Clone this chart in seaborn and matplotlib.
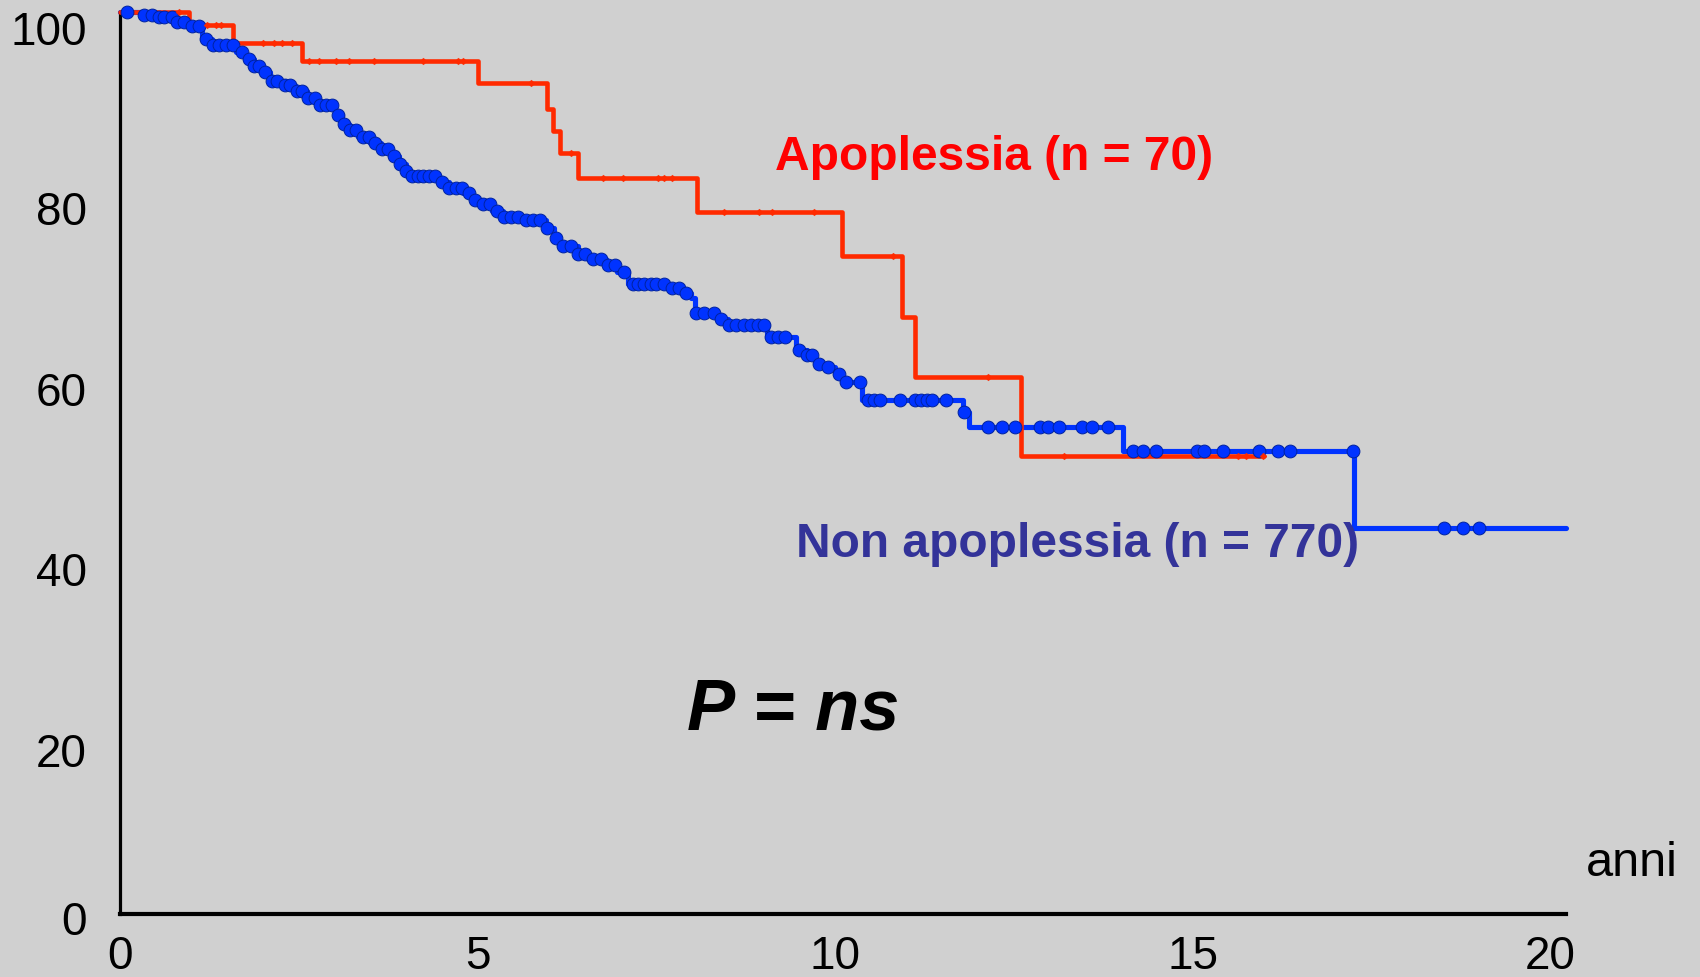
import numpy as np
import pandas as pd
import matplotlib
matplotlib.use("Agg")
import matplotlib.pyplot as plt
import matplotlib.transforms as mtransforms
import seaborn as sns

# ---------------- data ----------------
red_times = [0.0, 0.97, 1.58, 2.55, 5.01, 5.97, 6.05, 6.15, 6.40, 8.07, 10.10,
             10.93, 11.12, 12.60, 16.00]
red_surv = [100.0, 98.6, 96.6, 94.6, 92.1, 89.3, 86.8, 84.4, 81.6, 77.8, 72.9,
            66.2, 59.5, 50.8, 50.8]
red_censor = [0.82, 1.22, 1.34, 1.41, 2.00, 2.15, 2.27, 2.41, 2.64, 2.78, 3.02,
              3.20, 3.55, 4.23, 4.72, 4.80, 5.74, 6.30, 6.75, 7.04, 7.52, 7.60,
              7.72, 8.44, 8.93, 9.11, 9.70, 10.81, 12.14, 13.20, 15.63, 15.74, 15.98]

blue_times = [0.0, 0.30, 0.55, 0.80, 0.95, 1.15, 1.28, 1.62, 1.75, 1.88, 1.97,
              2.10, 2.30, 2.45, 2.62, 2.75, 3.00, 3.10, 3.20, 3.33, 3.50, 3.65,
              3.78, 3.90, 4.00, 4.05, 4.45, 4.60, 4.80, 4.92, 5.05, 5.20, 5.35,
              5.65, 5.95, 6.07, 6.14, 6.40, 6.55, 6.80, 6.95, 7.10, 7.68, 7.85,
              7.98, 8.04, 8.35, 8.50, 9.04, 9.45, 9.60, 9.72, 9.88, 10.00, 10.10,
              10.37, 11.79, 11.87, 14.03, 17.25, 20.22]
blue_surv = [100.0, 99.7, 99.4, 98.9, 98.4, 97.0, 96.3, 95.6, 94.8, 94.0, 93.3,
             92.4, 91.9, 91.2, 90.5, 89.7, 88.6, 87.6, 86.9, 86.1, 85.5, 84.8,
             84.0, 83.2, 82.4, 81.8, 81.1, 80.5, 79.9, 79.2, 78.7, 77.9, 77.3,
             76.9, 76.1, 74.9, 74.1, 73.2, 72.6, 72.0, 71.2, 69.9, 69.4, 68.8,
             68.3, 66.6, 66.0, 65.3, 64.0, 62.5, 62.0, 61.0, 60.6, 59.9, 59.0,
             57.0, 55.7, 54.0, 51.3, 42.8, 42.8]
blue_censor = [0.10, 0.34, 0.45, 0.55, 0.62, 0.72, 0.80, 0.90, 1.00, 1.10, 1.20,
               1.30, 1.38, 1.48, 1.58, 1.70, 1.80, 1.88, 1.95, 2.03, 2.12, 2.20,
               2.30, 2.38, 2.47, 2.55, 2.63, 2.72, 2.80, 2.88, 2.97, 3.05, 3.13,
               3.22, 3.30, 3.40, 3.48, 3.57, 3.66, 3.75, 3.83, 3.92, 4.00, 4.08,
               4.16, 4.24, 4.32, 4.40, 4.50, 4.60, 4.70, 4.78, 4.88, 4.97, 5.07,
               5.17, 5.27, 5.37, 5.47, 5.57, 5.67, 5.77, 5.87, 5.97, 6.10, 6.20,
               6.30, 6.40, 6.50, 6.62, 6.72, 6.82, 6.92, 7.05, 7.17, 7.25, 7.33,
               7.42, 7.50, 7.60, 7.72, 7.82, 7.92, 8.06, 8.16, 8.30, 8.40, 8.52,
               8.62, 8.72, 8.82, 8.92, 9.00, 9.10, 9.20, 9.30, 9.50, 9.60, 9.68,
               9.78, 9.90, 10.05, 10.15, 10.35, 10.46, 10.54, 10.62, 10.91, 11.12,
               11.20, 11.28, 11.36, 11.55, 11.80, 12.14, 12.33, 12.51, 12.86, 12.97,
               13.13, 13.45, 13.59, 13.82, 14.17, 14.31, 14.49, 15.06, 15.16, 15.42,
               15.92, 16.19, 16.36, 17.24, 18.52, 18.78, 19.00]

x_ticks = [0, 5, 10, 15, 20]
y_ticks = [0, 20, 40, 60, 80, 100]
label_red = "Apoplessia (n = 70)"
label_blue = "Non apoplessia (n = 770)"
p_text = "P = ns"
x_unit = "anni"

# ---------------- style ----------------
BG = "#d0d0d0"
RED = "#ff2a00"
BLUE = "#0033ff"
sns.set_style("white", {"axes.facecolor": BG, "figure.facecolor": BG})
plt.rcParams["font.family"] = ["Liberation Sans", "DejaVu Sans"]

fig = plt.figure(figsize=(17, 9.77), dpi=100)
ax = fig.add_axes([0.0706, 0.0645, 0.8506, 0.9232])
ax.set_facecolor(BG)


def step_lookup(times, surv, c):
    idx = np.searchsorted(np.asarray(times), np.asarray(c), side="right") - 1
    return np.asarray(surv)[idx]


red_df = pd.DataFrame({"t": red_times, "s": red_surv})
blue_df = pd.DataFrame({"t": blue_times, "s": blue_surv})
red_c = pd.DataFrame({"t": red_censor, "s": step_lookup(red_times, red_surv, red_censor)})
blue_c = pd.DataFrame({"t": blue_censor, "s": step_lookup(blue_times, blue_surv, blue_censor)})

sns.lineplot(data=blue_df, x="t", y="s", ax=ax, color=BLUE, lw=3.7,
             drawstyle="steps-post", sort=False, estimator=None, zorder=2,
             clip_on=False)
sns.lineplot(data=red_df, x="t", y="s", ax=ax, color=RED, lw=3.3,
             drawstyle="steps-post", sort=False, estimator=None, zorder=3,
             clip_on=False)
sns.scatterplot(data=blue_c, x="t", y="s", ax=ax, color=BLUE, s=85, marker="o",
                edgecolor="#0022a0", linewidth=0.7, zorder=4, clip_on=False)
sns.scatterplot(data=red_c, x="t", y="s", ax=ax, color=RED, s=12, marker="D",
                edgecolor=RED, linewidth=0.3, zorder=5, clip_on=False)

ax.set_xlim(0, 20.22)
ax.set_ylim(0, 100)
ax.set_xticks(x_ticks)
ax.set_yticks(y_ticks)
ax.set_xticklabels([str(v) for v in x_ticks])
ax.set_yticklabels([str(v) for v in y_ticks])
ax.tick_params(axis="both", length=0, labelsize=33, colors="black")
ax.tick_params(axis="x", pad=15)
ax.tick_params(axis="y", pad=24)
ax.set_xlabel("")
ax.set_ylabel("")

for side in ["top", "right"]:
    ax.spines[side].set_visible(False)
ax.spines["left"].set_color("black")
ax.spines["left"].set_linewidth(2.3)
ax.spines["bottom"].set_color("black")
ax.spines["bottom"].set_linewidth(3.0)

# y tick labels in the reference sit a little below their values
for val, lab in zip(y_ticks, ax.get_yticklabels()):
    dy = -4 if val == 0 else -16
    lab.set_transform(lab.get_transform() +
                      mtransforms.ScaledTranslation(0, dy / 100, fig.dpi_scale_trans))

ax.text(12.22, 83.9, label_red, color="#ff0000", fontsize=34.5,
        fontweight="bold", ha="center", va="center")
ax.text(13.39, 41.0, label_blue, color="#333399", fontsize=34.5,
        fontweight="bold", ha="center", va="center")
ax.text(9.41, 22.6, p_text, color="black", fontsize=52, fontweight="bold",
        fontstyle="italic", ha="center", va="center")
fig.text(0.96, 1 - 863 / 977, x_unit, fontsize=35, ha="center", va="center",
         color="black")

fig.savefig("out.png", dpi=100, facecolor=BG)
